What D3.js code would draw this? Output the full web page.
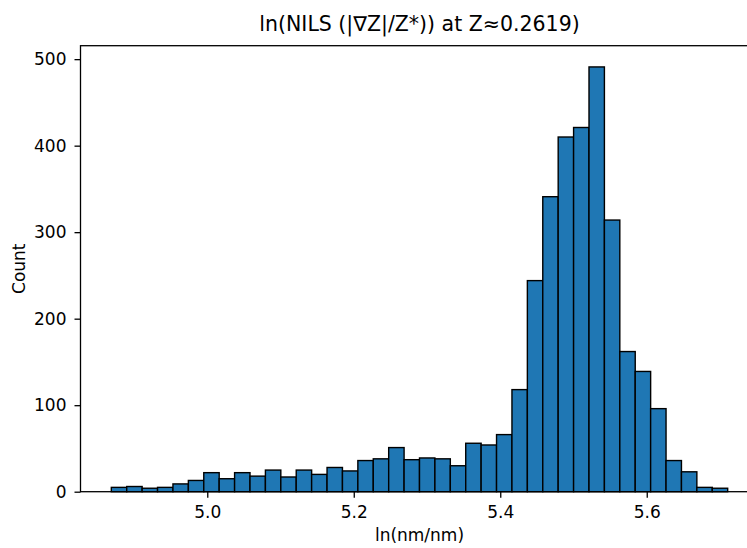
<!DOCTYPE html>
<html>
<head>
<meta charset="utf-8">
<script src="https://cdn.jsdelivr.net/npm/d3@7"></script>
<style>
  body { margin: 0; background: #fff; overflow: hidden; }
  svg { display: block; font-family: "DejaVu Sans", sans-serif; }
</style>
</head>
<body>
<div id="chart"></div>
<script>
// histogram data: 40 equal bins between binMin and binMax
const binMin = 4.869;
const binMax = 5.7105;
const counts = [5, 6, 4, 5, 9, 13, 22, 15, 22, 18,
                25, 17, 25, 20, 28, 24, 36, 38, 51, 37,
                39, 38, 30, 56, 54, 66, 118, 244, 341, 410,
                421, 491, 314, 162, 139, 96, 36, 23, 5, 4];
const xTicks = [5.0, 5.2, 5.4, 5.6];
const yTicks = [0, 100, 200, 300, 400, 500];
const titleText = "ln(NILS (|∇Z|/Z*)) at Z≈0.2619)";
const xLabel = "ln(nm/nm)";
const yLabel = "Count";

const W = 747, H = 548;
const plot = { left: 80.5, right: 758.5, top: 45.7, bottom: 491.7 };
const tickFont = "17px", titleFont = "20.5px";

const svg = d3.select("#chart").append("svg")
  .attr("width", W)
  .attr("height", H);

// bins
const binWidth = (binMax - binMin) / counts.length;
const bins = counts.map((c, i) => ({
  x0: binMin + i * binWidth,
  x1: binMin + (i + 1) * binWidth,
  count: c
}));

// matplotlib style 5% margins on x, 5% headroom on y
const pad = (binMax - binMin) * 0.05;
const x = d3.scaleLinear()
  .domain([binMin - pad, binMax + pad])
  .range([plot.left, plot.right]);
const y = d3.scaleLinear()
  .domain([0, d3.max(counts) * 1.05])
  .range([plot.bottom, plot.top]);

// bars
svg.append("g")
  .selectAll("rect")
  .data(bins)
  .join("rect")
  .attr("x", d => x(d.x0))
  .attr("y", d => y(d.count))
  .attr("width", d => x(d.x1) - x(d.x0))
  .attr("height", d => y(0) - y(d.count))
  .attr("fill", "#1f77b4")
  .attr("stroke", "#000")
  .attr("stroke-width", 1.4);

// axes
const xAxis = svg.append("g")
  .attr("transform", `translate(0,${plot.bottom})`)
  .call(d3.axisBottom(x).tickValues(xTicks).tickFormat(d3.format(".1f")).tickSizeOuter(0).tickSize(6).tickPadding(8));
const yAxis = svg.append("g")
  .attr("transform", `translate(${plot.left},0)`)
  .call(d3.axisLeft(y).tickValues(yTicks).tickSizeOuter(0).tickSize(6).tickPadding(8));

[xAxis, yAxis].forEach(a => {
  a.select(".domain").remove();
  a.selectAll(".tick line").attr("stroke", "#000").attr("stroke-width", 1.3);
  a.selectAll(".tick text").attr("fill", "#000").style("font-size", tickFont).style("font-family", "DejaVu Sans, sans-serif");
});

// frame
svg.append("rect")
  .attr("x", plot.left)
  .attr("y", plot.top)
  .attr("width", plot.right - plot.left)
  .attr("height", plot.bottom - plot.top)
  .attr("fill", "none")
  .attr("stroke", "#000")
  .attr("stroke-width", 1.3);

// title and labels
svg.append("text")
  .attr("x", (plot.left + plot.right) / 2)
  .attr("y", 31)
  .attr("text-anchor", "middle")
  .style("font-size", titleFont)
  .text(titleText);

svg.append("text")
  .attr("x", (plot.left + plot.right) / 2)
  .attr("y", 541)
  .attr("text-anchor", "middle")
  .style("font-size", tickFont)
  .text(xLabel);

svg.append("text")
  .attr("transform", `translate(25,${(plot.top + plot.bottom) / 2}) rotate(-90)`)
  .attr("text-anchor", "middle")
  .style("font-size", tickFont)
  .text(yLabel);
</script>
</body>
</html>
